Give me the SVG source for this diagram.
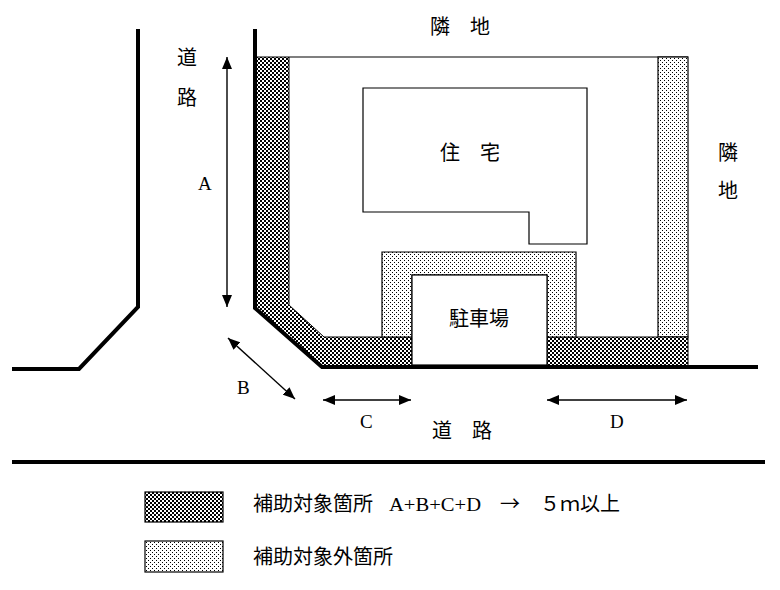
<svg xmlns="http://www.w3.org/2000/svg" width="780" height="590" viewBox="0 0 780 590">
<defs>
<pattern id="checker" x="0" y="0" width="4" height="4" patternUnits="userSpaceOnUse">
<rect width="4" height="4" fill="#fff"/>
<rect x="0" y="0" width="2" height="2" fill="#000"/>
<rect x="2" y="2" width="2" height="2" fill="#000"/>
</pattern>
<pattern id="dots" x="0" y="0" width="4" height="4" patternUnits="userSpaceOnUse">
<rect width="4" height="4" fill="#fff"/>
<rect x="0" y="0" width="1" height="1" fill="#000"/>
<rect x="2" y="2" width="1" height="1" fill="#000"/>
</pattern>
<marker id="ah" viewBox="0 0 12 10" refX="12" refY="5" markerWidth="12" markerHeight="10" markerUnits="userSpaceOnUse" orient="auto-start-reverse">
<path d="M0,0 L12,5 L0,10 Z" fill="#000"/>
</marker>
</defs>
<style>
.cjk{font-family:"Noto Sans CJK JP","Noto Sans CJK SC",sans-serif;font-size:20px;fill:#000}
.lat{font-family:"Liberation Serif","Times New Roman",serif;font-size:19px;fill:#000}
.thick{fill:none;stroke:#000;stroke-width:4}
.thin{stroke:#000;stroke-width:1.2}
.arr{fill:none;stroke:#000;stroke-width:1.4;marker-start:url(#ah);marker-end:url(#ah)}
</style>
<rect width="780" height="590" fill="#fff"/>

<g id="lot">
<line x1="289" y1="57" x2="688" y2="57" class="thin"/>
<rect id="right-strip" x="658" y="57" width="30" height="280" fill="url(#dots)" class="thin"/>
<polygon id="checker-band" points="255,57 289,57 289,305 324,337 412,337 412,366 322,366 255,308" fill="url(#checker)" stroke="#000" stroke-width="1"/>
<rect id="checker-right" x="547" y="337" width="141" height="29" fill="url(#checker)" stroke="#000" stroke-width="1"/>
</g>

<g id="house">
<polygon points="363,88 587,88 587,244 529,244 529,212 363,212" fill="#fff" class="thin"/>
<text class="cjk" x="440" y="160">住　宅</text>
</g>

<g id="parking">
<polygon points="382,252 576,252 576,337 547,337 547,275 412,275 412,337 382,337" fill="url(#dots)" class="thin"/>
<rect x="412" y="275" width="135" height="90" fill="#fff" class="thin"/>
<text class="cjk" x="449" y="326">駐車場</text>
</g>

<g id="roads">
<polyline class="thick" points="255,29 255,308 322,367 758,367"/>
<polyline class="thick" points="138,29 138,307 79,369 12,369"/>
<line class="thick" x1="12" y1="462" x2="765" y2="462"/>
</g>

<g id="connectors">
<line class="arr" x1="227" y1="57" x2="227" y2="307"/>
<line class="arr" x1="228" y1="338" x2="295" y2="399"/>
<line class="arr" x1="323" y1="400" x2="411" y2="400"/>
<line class="arr" x1="547" y1="400" x2="687" y2="400"/>
</g>

<g id="labels">
<text class="cjk" x="430" y="34">隣　地</text>
<text class="cjk" x="718" y="160">隣</text>
<text class="cjk" x="718" y="198">地</text>
<text class="cjk" x="177" y="65">道</text>
<text class="cjk" x="177" y="105">路</text>
<text class="cjk" x="432" y="438">道　路</text>
<text class="lat" x="198" y="190">A</text>
<text class="lat" x="237" y="394">B</text>
<text class="lat" x="360" y="428">C</text>
<text class="lat" x="610" y="428">D</text>
</g>

<g id="legend">
<rect x="145" y="492" width="78" height="30" fill="url(#checker)" class="thin"/>
<rect x="145" y="541" width="78" height="31" fill="url(#dots)" class="thin"/>
<text class="cjk" x="253" y="511">補助対象箇所</text>
<text class="lat" x="389" y="511" textLength="92" lengthAdjust="spacingAndGlyphs">A+B+C+D</text>
<text class="cjk" x="500" y="511">→</text>
<text class="cjk" x="540" y="511">５ｍ以上</text>
<text class="cjk" x="253" y="564">補助対象外箇所</text>
</g>
</svg>
